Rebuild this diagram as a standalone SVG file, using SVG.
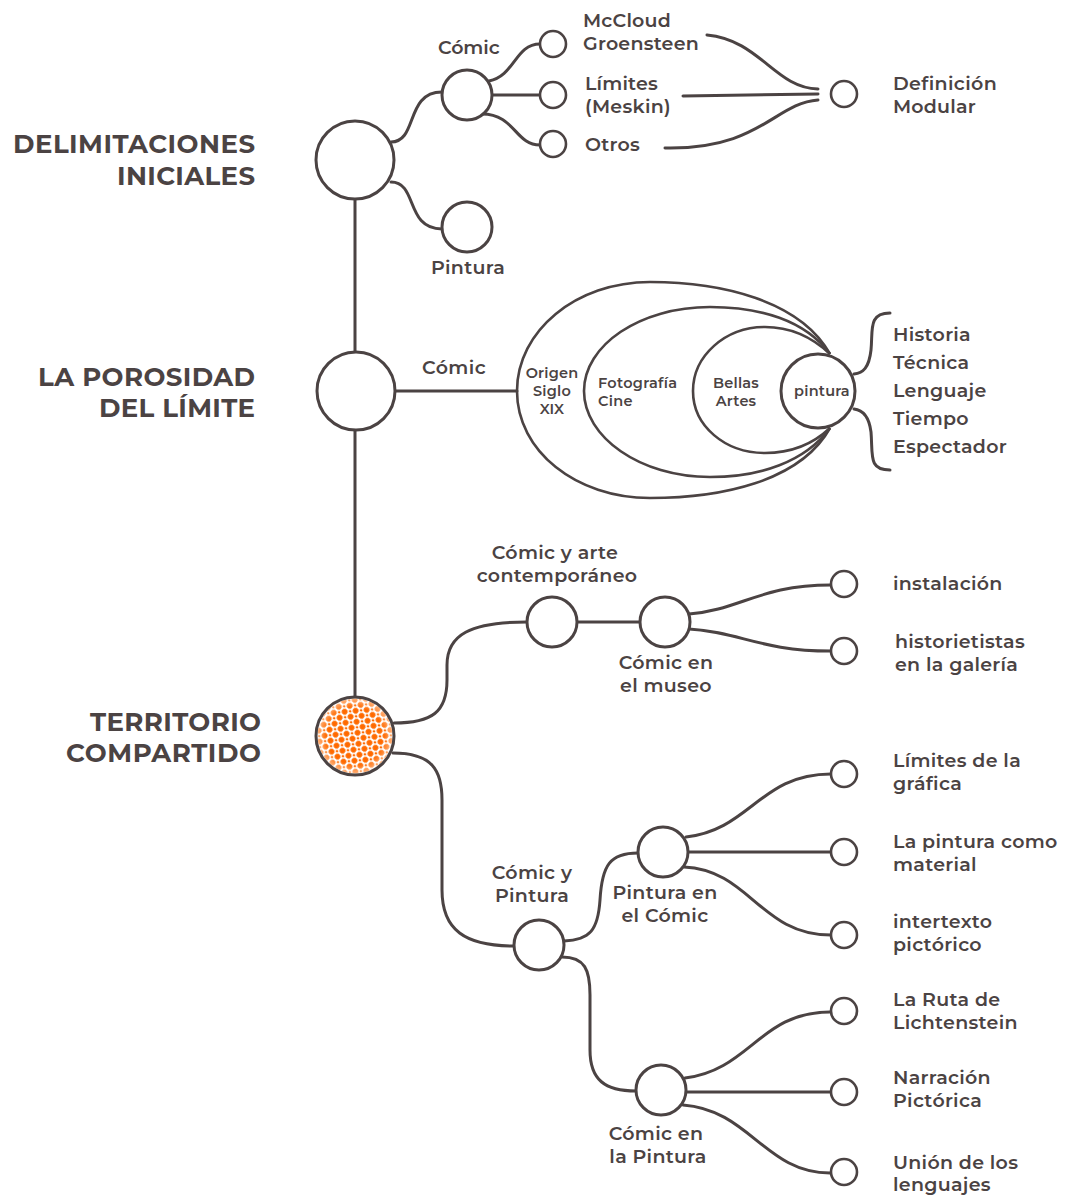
<svg xmlns="http://www.w3.org/2000/svg" width="1073" height="1196" viewBox="0 0 1073 1196">
<style>
.ln{fill:none;stroke:#4b4343;stroke-width:3;stroke-linecap:round}
.nd{fill:#fff;stroke:#4b4343;stroke-width:3}
.sm{fill:#fff;stroke:#4b4343;stroke-width:2.6}
.ring{fill:none;stroke:#4b4343;stroke-width:2.6}
text{font-family:Montserrat,Inter,"Open Sans","Liberation Sans",sans-serif;fill:#4b4343}
.h{font-size:26px;font-weight:700;text-anchor:end}
.t{font-size:19px;font-weight:600;letter-spacing:0.3px}
.c{font-size:19px;font-weight:600;letter-spacing:0.3px;text-anchor:middle}
.s{font-size:14.5px;font-weight:600;letter-spacing:0.2px;text-anchor:middle}
.sl{font-size:14.5px;font-weight:600;letter-spacing:0.3px}
</style>
<defs>
<pattern id="dots" width="7.8" height="7.8" patternUnits="userSpaceOnUse" patternTransform="rotate(40)">
<circle cx="3.9" cy="3.9" r="2.9" fill="#ff6a00"/>
</pattern>
<pattern id="dots2" width="7.8" height="7.8" patternUnits="userSpaceOnUse" patternTransform="rotate(40) translate(3.9 3.9)">
<circle cx="3.9" cy="3.9" r="1.3" fill="#ff6a00"/>
</pattern>
<clipPath id="cc"><circle cx="355" cy="736" r="37.5"/></clipPath>
<radialGradient id="fade"><stop offset="0.75" stop-color="#fff"/><stop offset="1" stop-color="#fff" stop-opacity="0.5"/></radialGradient>
<mask id="fm"><circle cx="355" cy="736" r="38" fill="url(#fade)"/></mask>
</defs>

<g id="connectors">
<line class="ln" x1="355" y1="199" x2="355" y2="351"/>
<line class="ln" x1="355" y1="430" x2="355" y2="697"/>
<path class="ln" d="M391,142 C418,142 405,92 442,92"/>
<path class="ln" d="M391,182 C418,182 405,229 442,229"/>
<path class="ln" d="M489,81 C515,76 515,44 540,44"/>
<line class="ln" x1="492" y1="95" x2="540" y2="95"/>
<path class="ln" d="M482,114 C515,114 515,145 540,145"/>
<path class="ln" d="M707,35 C760,40 775,88 818,89"/>
<line class="ln" x1="683" y1="96" x2="818" y2="94"/>
<path class="ln" d="M665,148 C760,150 775,103 818,100"/>
<line class="ln" x1="396" y1="391" x2="517" y2="391"/>
<path class="ln" d="M890,313 C868,313 873,330 871,350 C869,368 863,373 854,374"/>
<path class="ln" d="M854,409 C863,410 869,416 871,432 C873,455 868,470 890,470"/>
<path class="ln" d="M394,723 C432,723 447,712 447,680 L447,665 C447,635 470,622 527,622"/>
<line class="ln" x1="577" y1="622" x2="640" y2="622"/>
<path class="ln" d="M689,614 C740,610 760,585 831,585"/>
<path class="ln" d="M689,629 C740,632 760,651 831,651"/>
<path class="ln" d="M393,753 C432,753 442,770 442,800 L442,890 C442,930 465,946 514,946"/>
<path class="ln" d="M564,941 C590,940 598,930 600,900 C602,865 610,853 638,853"/>
<path class="ln" d="M686,837 C750,830 760,774 831,774"/>
<line class="ln" x1="688" y1="852" x2="831" y2="852"/>
<path class="ln" d="M684,867 C750,870 760,935 831,935"/>
<path class="ln" d="M562,957 C585,957 590,970 590,995 L590,1050 C590,1080 605,1091 636,1091"/>
<path class="ln" d="M685,1078 C750,1070 760,1012 830,1012"/>
<line class="ln" x1="686" y1="1092" x2="830" y2="1092"/>
<path class="ln" d="M683,1105 C750,1110 765,1173 830,1173"/>
</g>

<g id="delimitaciones">
<circle class="nd" cx="355" cy="160" r="39"/>
<text class="h" x="255" y="153" textLength="242">DELIMITACIONES</text>
<text class="h" x="255" y="185" textLength="138">INICIALES</text>
</g>
<g id="comic-1">
<circle class="nd" cx="467" cy="95" r="25"/>
<text class="t" x="438" y="54" textLength="62">Cómic</text>
</g>
<g id="mccloud">
<circle class="sm" cx="553" cy="44" r="13"/>
<text class="t" x="583" y="27" textLength="88">McCloud</text>
<text class="t" x="583" y="50" textLength="116">Groensteen</text>
</g>
<g id="limites-meskin">
<circle class="sm" cx="553" cy="95" r="13"/>
<text class="t" x="585" y="90" textLength="73">Límites</text>
<text class="t" x="585" y="113" textLength="86">(Meskin)</text>
</g>
<g id="otros">
<circle class="sm" cx="553" cy="144" r="13"/>
<text class="t" x="585" y="151" textLength="55">Otros</text>
</g>
<g id="pintura-1">
<circle class="nd" cx="467" cy="227" r="25"/>
<text class="t" x="431" y="274" textLength="74">Pintura</text>
</g>
<g id="definicion-modular">
<circle class="sm" cx="844" cy="94" r="13"/>
<text class="t" x="893" y="90" textLength="104">Definición</text>
<text class="t" x="893" y="113" textLength="83">Modular</text>
</g>

<g id="porosidad">
<circle class="nd" cx="356" cy="391" r="39"/>
<text class="h" x="255" y="386" textLength="217">LA POROSIDAD</text>
<text class="h" x="255" y="417" textLength="156">DEL LÍMITE</text>
<text class="t" x="422" y="374" textLength="64">Cómic</text>
</g>
<g id="origen">
<path class="ring" d="M830,354 C800,300 720,282 650,282 C576,282 517,331 517,391 C517,451 576,498 650,498 C720,498 800,482 830,428"/>
<text class="s" x="552" y="378">Origen</text>
<text class="s" x="552" y="396">Siglo</text>
<text class="s" x="552" y="414">XIX</text>
</g>
<g id="fotografia">
<path class="ring" d="M830,354 C805,320 760,307 710,307 C640,307 584,345 584,391 C584,437 640,477 710,477 C760,477 805,462 830,428"/>
<text class="sl" x="598" y="388">Fotografía</text>
<text class="sl" x="598" y="406">Cine</text>
</g>
<g id="bellas-artes">
<path class="ring" d="M830,354 C812,337 790,327 765,327 C725,327 693,356 693,391 C693,426 725,453 765,453 C790,453 812,445 830,428"/>
<text class="s" x="736" y="388">Bellas</text>
<text class="s" x="736" y="406">Artes</text>
</g>
<g id="pintura-core">
<circle class="nd" cx="818" cy="391" r="37"/>
<text class="s" x="822" y="396">pintura</text>
</g>
<g id="aspectos">
<text class="t" x="893" y="341">Historia</text>
<text class="t" x="893" y="369">Técnica</text>
<text class="t" x="893" y="397">Lenguaje</text>
<text class="t" x="893" y="425">Tiempo</text>
<text class="t" x="893" y="453">Espectador</text>
</g>

<g id="territorio">
<circle cx="355" cy="736" r="39" fill="#fff"/>
<g clip-path="url(#cc)" mask="url(#fm)">
<rect x="316" y="697" width="78" height="78" fill="url(#dots)"/>
<rect x="316" y="697" width="78" height="78" fill="url(#dots2)"/>
</g>
<circle cx="355" cy="736" r="39" fill="none" stroke="#4b4343" stroke-width="3"/>
<text class="h" x="261" y="731" textLength="171">TERRITORIO</text>
<text class="h" x="261" y="762" textLength="195">COMPARTIDO</text>
</g>
<g id="comic-arte">
<circle class="nd" cx="552" cy="622" r="25"/>
<text class="c" x="555" y="559">Cómic y arte</text>
<text class="c" x="557" y="582">contemporáneo</text>
</g>
<g id="comic-museo">
<circle class="nd" cx="665" cy="622" r="25"/>
<text class="c" x="666" y="669">Cómic en</text>
<text class="c" x="666" y="692">el museo</text>
</g>
<g id="instalacion">
<circle class="sm" cx="844" cy="584" r="13"/>
<text class="t" x="893" y="590">instalación</text>
</g>
<g id="historietistas">
<circle class="sm" cx="844" cy="651" r="13"/>
<text class="t" x="895" y="648">historietistas</text>
<text class="t" x="895" y="671">en la galería</text>
</g>
<g id="comic-pintura">
<circle class="nd" cx="539" cy="945" r="25"/>
<text class="c" x="532" y="879">Cómic y</text>
<text class="c" x="532" y="902">Pintura</text>
</g>
<g id="pintura-comic">
<circle class="nd" cx="663" cy="852" r="25"/>
<text class="c" x="665" y="899">Pintura en</text>
<text class="c" x="665" y="922">el Cómic</text>
</g>
<g id="limites-grafica">
<circle class="sm" cx="844" cy="774" r="13"/>
<text class="t" x="893" y="767">Límites de la</text>
<text class="t" x="893" y="790">gráfica</text>
</g>
<g id="pintura-material">
<circle class="sm" cx="844" cy="852" r="13"/>
<text class="t" x="893" y="848">La pintura como</text>
<text class="t" x="893" y="871">material</text>
</g>
<g id="intertexto">
<circle class="sm" cx="844" cy="935" r="13"/>
<text class="t" x="893" y="928">intertexto</text>
<text class="t" x="893" y="951">pictórico</text>
</g>
<g id="comic-en-pintura">
<circle class="nd" cx="661" cy="1090" r="25"/>
<text class="c" x="656" y="1140">Cómic en</text>
<text class="c" x="658" y="1163">la Pintura</text>
</g>
<g id="ruta-lichtenstein">
<circle class="sm" cx="844" cy="1011" r="13"/>
<text class="t" x="893" y="1006">La Ruta de</text>
<text class="t" x="893" y="1029">Lichtenstein</text>
</g>
<g id="narracion">
<circle class="sm" cx="844" cy="1092" r="13"/>
<text class="t" x="893" y="1084">Narración</text>
<text class="t" x="893" y="1107">Pictórica</text>
</g>
<g id="union">
<circle class="sm" cx="844" cy="1172" r="13"/>
<text class="t" x="893" y="1169">Unión de los</text>
<text class="t" x="893" y="1191">lenguajes</text>
</g>
</svg>
